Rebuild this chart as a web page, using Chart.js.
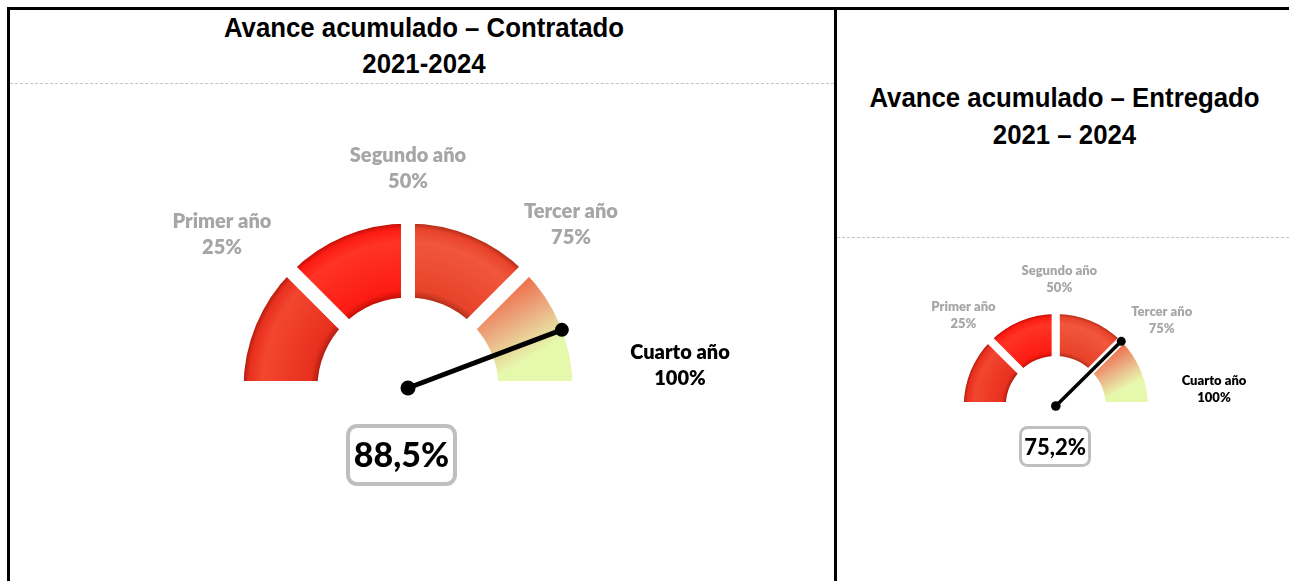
<!DOCTYPE html>
<html>
<head>
<meta charset="utf-8">
<script src="https://cdn.jsdelivr.net/npm/chart.js@4.4.1/dist/chart.umd.min.js"></script>
<style>
    body { margin: 0; background: #fff; width: 1289px; height: 581px; overflow: hidden; position: relative; font-family: "Liberation Sans", Arial, sans-serif; }
    .marco { position: absolute; left: 7px; top: 7px; width: 1300px; height: 600px; border-left: 3px solid #000; border-top: 3px solid #000; }
    .divisor { position: absolute; left: 834px; top: 7px; width: 3px; height: 600px; background: #000; }
    .titulo { position: absolute; text-align: center; font-weight: bold; font-size: 27px; color: #000; transform: scaleX(0.955); }
    .guiones { position: absolute; height: 0; border-top: 1px dashed #c4c4c4; }
    canvas { position: absolute; }
</style>
</head>
<body>
<div class="marco"></div>
<div class="divisor"></div>
<div class="titulo" id="titulo0" style="left:10px; top:10px; width:828px; line-height:36px;"></div>
<div class="titulo" id="titulo1" style="left:837px; top:80px; width:455px; line-height:37px;"></div>
<div class="guiones" style="left:10px; top:83px; width:824px;"></div>
<div class="guiones" style="left:837px; top:237px; width:452px;"></div>

<script>
// datos del grafico
const categorias = ["Primer año", "Segundo año", "Tercer año", "Cuarto año"];
const umbrales = ["25%", "50%", "75%", "100%"];
const tramos = [25, 25, 25, 25];
const titulos = [
    ["Avance acumulado – Contratado", "2021-2024"],
    ["Avance acumulado – Entregado", "2021 – 2024"]
];
const avances = [88.5, 75.2];

// colores de cada tramo: oscuro, base, claro
const coloresTramo = [
    ["#b51e10", "#e8301f", "#f2462f"],
    ["#c21008", "#fc1b12", "#ff3424"],
    ["#b52e18", "#e8432b", "#f0573c"]
];
const degradadoFinal = ["#ee7450", "#ebb487", "#e6f8ac"];

// posiciones en la pagina (px)
const indicadores = [
    {
        lienzo: [10, 86, 824, 495], centro: [408, 388], radio: 171.5, hueco: 14, corte: "48.7%",
        fuente: 20, salto: 26, aguja: 5, puntos: [7.5, 7],
        etiquetas: [[222, 222], [408, 156], [571, 212], [680, 353]],
        caja: [346, 424, 111, 62, 4, 9, 34]
    },
    {
        lienzo: [837, 239, 452, 342], centro: [1055.8, 406], radio: 96, hueco: 8, corte: "47.9%",
        fuente: 13, salto: 17, aguja: 3.5, puntos: [4.8, 4.5],
        etiquetas: [[963.5, 307], [1059.3, 271], [1161.7, 312], [1214, 381]],
        caja: [1019, 426, 72, 41, 3, 7, 22]
    }
];

titulos.forEach((t, i) => {
    document.getElementById("titulo" + i).innerHTML = t.join("<br>");
});

function colorTramo(c, g) {
    const k = c.dataIndex;
    if (k === undefined) return "#e8301f";
    const chart = c.chart;
    const ctrl = chart.getDatasetMeta(0).controller;
    const area = chart.chartArea;
    if (!area || !ctrl || !ctrl.outerRadius) {
        return k < 3 ? coloresTramo[k][1] : degradadoFinal[1];
    }
    const cx = (area.left + area.right) / 2 + ctrl.offsetX;
    const cy = (area.top + area.bottom) / 2 + ctrl.offsetY;
    const rExt = ctrl.outerRadius - g.hueco / 2;
    const rInt = ctrl.innerRadius + g.hueco / 2;
    const ctx = chart.ctx;
    if (k < 3) {
        const [osc, base, claro] = coloresTramo[k];
        const grad = ctx.createRadialGradient(cx, cy, rInt, cx, cy, rExt);
        grad.addColorStop(0, osc);
        grad.addColorStop(0.1, base);
        grad.addColorStop(0.75, claro);
        grad.addColorStop(0.93, base);
        grad.addColorStop(1, osc);
        return grad;
    }
    // ultimo tramo: de naranja a verde claro
    const rm = (rExt + rInt) / 2;
    const a1 = -Math.PI / 4, a2 = -0.25;
    const grad = ctx.createLinearGradient(
        cx + rm * Math.cos(a1), cy + rm * Math.sin(a1),
        cx + rm * Math.cos(a2), cy + rm * Math.sin(a2)
    );
    grad.addColorStop(0, degradadoFinal[0]);
    grad.addColorStop(0.5, degradadoFinal[1]);
    grad.addColorStop(1, degradadoFinal[2]);
    return grad;
}

function pluginAguja(i) {
    const g = indicadores[i];
    const [izq, arr] = g.lienzo;
    return {
        id: "aguja" + i,
        afterDatasetsDraw(chart) {
            const ctx = chart.ctx;
            const arcos = chart.getDatasetMeta(0).data;
            const a0 = arcos[0];
            const aN = arcos[arcos.length - 1];
            const x = a0.x, y = a0.y;
            const ang = a0.startAngle + (aN.endAngle - a0.startAngle) * avances[i] / 100;
            const largo = a0.outerRadius - g.hueco / 2;
            const px = x + largo * Math.cos(ang);
            const py = y + largo * Math.sin(ang);

            ctx.save();
            ctx.strokeStyle = "#000";
            ctx.fillStyle = "#000";
            ctx.lineWidth = g.aguja;
            ctx.lineCap = "round";
            ctx.beginPath();
            ctx.moveTo(x, y);
            ctx.lineTo(px, py);
            ctx.stroke();
            ctx.beginPath();
            ctx.arc(x, y, g.puntos[0], 0, Math.PI * 2);
            ctx.fill();
            ctx.beginPath();
            ctx.arc(px, py, g.puntos[1], 0, Math.PI * 2);
            ctx.fill();

            // etiquetas de los tramos
            ctx.font = "800 " + g.fuente + "px Lato";
            ctx.textAlign = "center";
            ctx.textBaseline = "middle";
            categorias.forEach((nombre, k) => {
                const [lx, ly] = g.etiquetas[k];
                ctx.fillStyle = k === categorias.length - 1 ? "#000" : "#a6a6a6";
                ctx.fillText(nombre, lx - izq, ly - arr);
                ctx.fillText(umbrales[k], lx - izq, ly - arr + g.salto);
            });

            // caja con el valor
            const [bx, by, bw, bh, bb, br, fs] = g.caja;
            ctx.lineWidth = bb;
            ctx.strokeStyle = "#bfbfbf";
            ctx.fillStyle = "#fff";
            ctx.beginPath();
            ctx.roundRect(bx - izq + bb / 2, by - arr + bb / 2, bw - bb, bh - bb, br);
            ctx.fill();
            ctx.stroke();
            ctx.fillStyle = "#000";
            ctx.font = "900 " + fs + "px Lato";
            ctx.fillText(avances[i].toFixed(1).replace(".", ",") + "%", bx - izq + bw / 2, by - arr + bh / 2 + 1);
            ctx.restore();
        }
    };
}

function crearIndicador(i) {
    const g = indicadores[i];
    const [izq, arr, w, h] = g.lienzo;
    const el = document.createElement("canvas");
    el.width = w;
    el.height = h;
    el.style.left = izq + "px";
    el.style.top = arr + "px";
    el.style.width = w + "px";
    el.style.height = h + "px";
    document.body.appendChild(el);

    // relleno para que el centro quede en su sitio
    const cx = g.centro[0] - izq;
    const cy = g.centro[1] - arr;
    const medioY = cy - g.radio / 2;
    const relleno = {
        left: Math.max(0, 2 * cx - w),
        right: Math.max(0, w - 2 * cx),
        top: Math.max(0, 2 * medioY - h),
        bottom: Math.max(0, h - 2 * medioY)
    };

    new Chart(el, {
        type: "doughnut",
        data: {
            labels: categorias,
            datasets: [{
                data: tramos,
                backgroundColor: c => colorTramo(c, g),
                borderColor: "#ffffff",
                borderWidth: g.hueco,
                hoverOffset: 0
            }]
        },
        options: {
            responsive: false,
            animation: false,
            events: [],
            rotation: -90,
            circumference: 180,
            cutout: g.corte,
            radius: g.radio,
            layout: { padding: relleno },
            plugins: {
                legend: { display: false },
                tooltip: { enabled: false }
            }
        },
        plugins: [pluginAguja(i)]
    });
}

Promise.all([
    document.fonts.load("800 20px Lato"),
    document.fonts.load("900 20px Lato")
]).then(() => {
    indicadores.forEach((_, i) => crearIndicador(i));
});
</script>
</body>
</html>
